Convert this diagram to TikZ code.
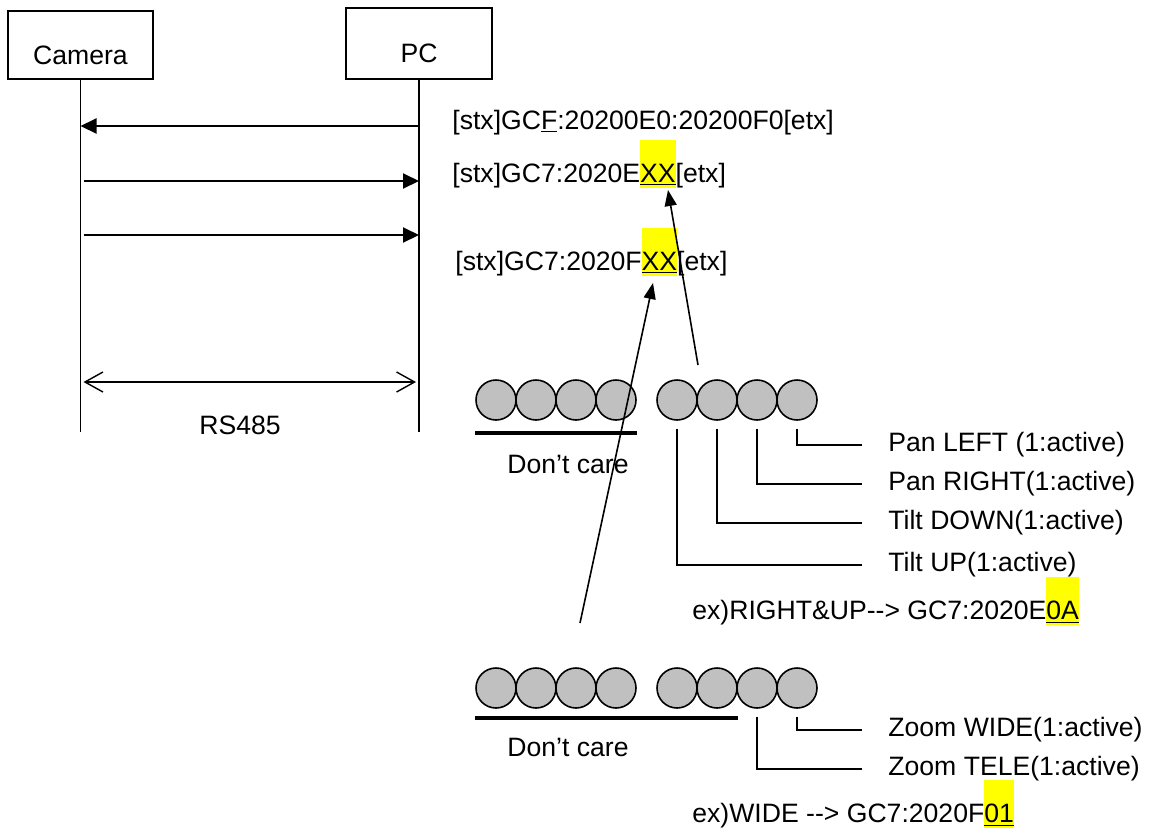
\documentclass[tikz,border=0pt]{standalone}
\usepackage{fontspec}
\setmainfont{Liberation Sans}
\usepackage{tikz}
\usetikzlibrary{arrows.meta, positioning}
\definecolor{hlyellow}{RGB}{255,255,0}
\definecolor{bitgray}{RGB}{192,192,192}
\newcommand{\hlbits}[1]{{\setlength{\fboxsep}{0pt}\colorbox{hlyellow}{\rule[-3pt]{0pt}{24pt}\underline{#1}}}}

\begin{document}
\begin{tikzpicture}[x=0.5pt, y=-0.5pt,
  font=\fontsize{13.3}{16}\selectfont,
  actor/.style={draw, line width=0.7pt, minimum width=72.5pt, minimum height=34pt,
                text height=19pt, text depth=0pt, inner sep=0pt},
  lifeline/.style={line width=0.7pt},
  msg/.style={-{Triangle[length=8pt, width=7.5pt]}, line width=1pt},
  bus/.style={{Straight Barb[length=9pt, width=10pt]}-{Straight Barb[length=9pt, width=10pt]}, line width=0.7pt},
  cmd/.style={anchor=base west, inner sep=0pt},
  bit/.style={circle, draw, line width=0.8pt, fill=bitgray, minimum size=20pt, inner sep=0pt},
  dontcare/.style={line width=1.8pt},
  lead/.style={line width=0.7pt},
  flag/.style={anchor=west, inner xsep=13pt, inner ysep=0pt},
  point/.style={-{Triangle[length=8pt, width=6pt]}, line width=0.8pt}
]
  \useasboundingbox (0,0) rectangle (1161,831);

  %% Sequence: Camera <-> PC
  \node[actor] (cam) at (80.5,45) {Camera};
  \node[actor, minimum width=73pt, minimum height=35.5pt] (pc) at (419,43.5) {PC};
  \draw[lifeline] (cam.south) -- (cam.south |- 0,432);
  \draw[lifeline] (pc.south)  -- (pc.south |- 0,432);

  \draw[msg] (pc.south |- 0,126) -- (cam.south |- 0,126);
  \draw[msg, shorten <=1.5pt] (cam.south |- 0,181) -- (pc.south |- 0,181);
  \draw[msg, shorten <=1.5pt] (cam.south |- 0,235) -- (pc.south |- 0,235);
  \draw[bus, shorten <=1.5pt, shorten >=1.5pt] (cam.south |- 0,382) -- (pc.south |- 0,382);
  \node (rs) at (240,425) {RS485};

  %% Commands
  \node[cmd] (getpt)   at (452,129) {[stx]GC\underline{F}:20200E0:20200F0[etx]};
  \node[cmd] (ptreply) at (452,182) {[stx]GC7:2020E\hlbits{XX}[etx]};
  \node[cmd] (zmreply) at (455,270) {[stx]GC7:2020F\hlbits{XX}[etx]};

  %% Pan / tilt byte
  \foreach \i/\x in {1/496,2/536,3/576,4/616,5/677,6/717,7/757,8/797}
    \node[bit] (pt\i) at (\x,400) {};
  \draw[dontcare] (pt1.west |- 0,433) -- (pt4.east |- 0,433);
  \node (ptcare) at (568,464) {Don’t care};

  \node[flag] (panleft)  at (862,445) {Pan LEFT (1:active)};
  \node[flag] (panright) at (862,484) {Pan RIGHT(1:active)};
  \node[flag] (tiltdown) at (862,523) {Tilt DOWN(1:active)};
  \node[flag] (tiltup)   at (862,565) {Tilt UP(1:active)};
  \draw[lead] ([yshift=-4pt]pt8.south) |- (panleft);
  \draw[lead] ([yshift=-4pt]pt7.south) |- (panright);
  \draw[lead] ([yshift=-4pt]pt6.south) |- (tiltdown);
  \draw[lead] ([yshift=-4pt]pt5.south) |- (tiltup);
  \node[cmd] (ptex) at (692,619) {ex)RIGHT\&UP-{}-> GC7:2020E\hlbits{0A}};

  %% Zoom byte
  \foreach \i/\x in {1/496,2/536,3/576,4/616,5/677,6/717,7/757,8/797}
    \node[bit] (zm\i) at (\x,688) {};
  \draw[dontcare] (zm1.west |- 0,718) -- (zm6.east |- 0,718);
  \node (zmcare) at (568,747) {Don’t care};

  \node[flag] (zwide) at (862,730) {Zoom WIDE(1:active)};
  \node[flag] (ztele) at (862,769) {Zoom TELE(1:active)};
  \draw[lead] ([yshift=-4pt]zm8.south) |- (zwide);
  \draw[lead] ([yshift=-4pt]zm7.south) |- (ztele);
  \node[cmd] (zmex) at (692,822) {ex)WIDE -{}-> GC7:2020F\hlbits{01}};

  %% Pointers to the data bytes
  \coordinate (ptfoot) at (698,365);
  \coordinate (pthead) at (668,190);
  \coordinate (zmfoot) at (580,623);
  \coordinate (zmhead) at (653,283);
  \draw[point] (ptfoot) -- (pthead);
  \draw[point] (zmfoot) -- (zmhead);
\end{tikzpicture}
\end{document}
